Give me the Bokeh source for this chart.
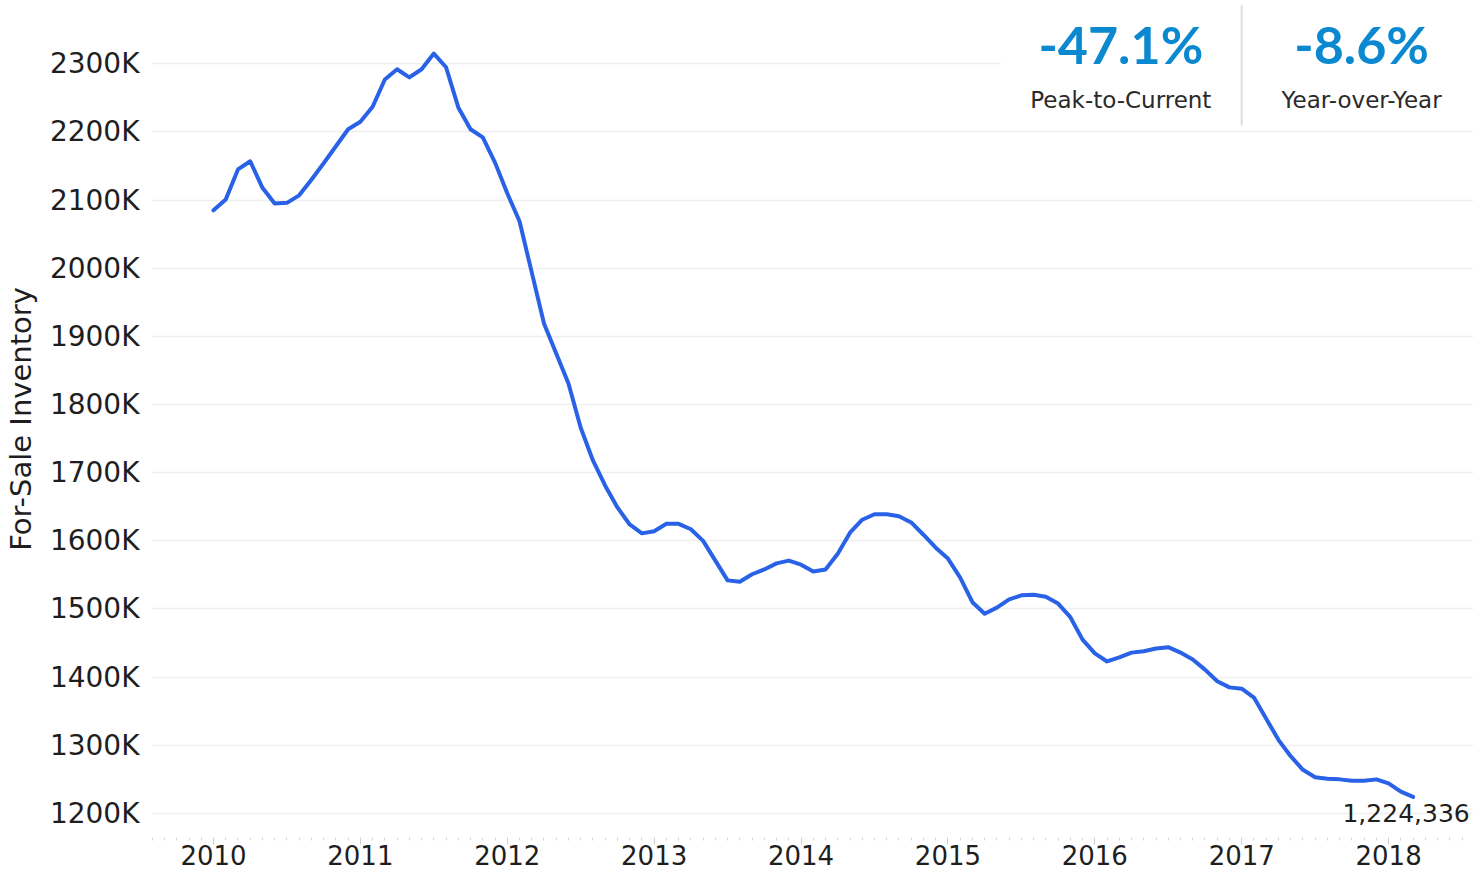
from bokeh.plotting import figure
from bokeh.models import Range1d, FixedTicker, SingleIntervalTicker, Label, BoxAnnotation
from bokeh.embed import file_html
from bokeh.resources import INLINE
import pandas as pd

# For-sale inventory, thousands of homes, monthly from Jan 2010
inventory_k = [
    2085, 2101, 2145, 2157, 2118, 2095, 2096, 2107, 2130, 2154, 2179, 2204,
    2215, 2237, 2277, 2292, 2280, 2292, 2315, 2295, 2236, 2204, 2192, 2155,
    2110, 2069, 1994, 1919, 1875, 1831, 1766, 1718, 1681, 1649, 1624, 1611,
    1614, 1625, 1625, 1617, 1600, 1571, 1542, 1540, 1551, 1558, 1567, 1571,
    1565, 1555, 1558, 1581, 1612, 1631, 1639, 1639, 1636, 1627, 1609, 1590,
    1574, 1546, 1510, 1493, 1502, 1514, 1520, 1521, 1518, 1508, 1488, 1455,
    1435, 1423, 1429, 1436, 1438, 1442, 1444, 1436, 1426, 1411, 1394, 1385,
    1383, 1370, 1339, 1308, 1284, 1264, 1253, 1251, 1250, 1248, 1248, 1250,
    1244, 1232, 1224.336,
]
months = pd.date_range("2010-01-01", periods=len(inventory_k), freq="MS")
x_years = [d.year + (d.month - 1) / 12 for d in months]

y_tick_values = list(range(1200, 2400, 100))
y_tick_labels = [f"{v}K" for v in y_tick_values]
x_tick_years = list(range(2010, 2019))
x_tick_labels = [str(y) for y in x_tick_years]

stat_values = ["-47.1%", "-8.6%"]
stat_names = ["Peak-to-Current", "Year-over-Year"]
last_label = "1,224,336"
y_title = "For-Sale Inventory"

FONT = "DejaVu Sans"
TXT = "#1e1e1e"

p = figure(width=1473, height=875, output_backend="svg", toolbar_location=None,
           x_range=Range1d(2009.578, 2018.578), y_range=Range1d(1164.7, 2392.9),
           min_border_left=150, min_border_right=0, min_border_top=0, min_border_bottom=38)
p.outline_line_color = None
p.background_fill_color = "white"
p.border_fill_color = "white"

p.line(x_years, inventory_k, line_color="#2962e6", line_width=4, line_join="round", line_cap="round")

# y axis
p.yaxis.ticker = FixedTicker(ticks=y_tick_values)
p.yaxis.major_label_overrides = {v: l for v, l in zip(y_tick_values, y_tick_labels)}
p.yaxis.axis_line_color = None
p.yaxis.major_tick_line_color = None
p.yaxis.major_tick_out = 0
p.yaxis.major_tick_in = 0
p.yaxis.minor_tick_line_color = None
p.yaxis.minor_tick_out = 0
p.yaxis.minor_tick_in = 0
p.yaxis.major_label_standoff = 12
p.yaxis.major_label_text_font = FONT
p.yaxis.major_label_text_font_size = "28px"
p.yaxis.major_label_text_color = TXT
p.yaxis.axis_label = y_title
p.yaxis.axis_label_text_font = FONT
p.yaxis.axis_label_text_font_size = "29px"
p.yaxis.axis_label_text_font_style = "normal"
p.yaxis.axis_label_text_color = TXT
p.yaxis.axis_label_standoff = 9

# x axis
p.xaxis.ticker = SingleIntervalTicker(interval=1, num_minor_ticks=12)
p.xaxis.major_label_overrides = {v: l for v, l in zip(x_tick_years, x_tick_labels)}
p.xaxis.axis_line_color = None
p.xaxis.major_tick_line_color = "#cfcfcf"
p.xaxis.major_tick_out = 7
p.xaxis.major_tick_in = 0
p.xaxis.minor_tick_line_color = "#d6d6d6"
p.xaxis.minor_tick_out = 3
p.xaxis.minor_tick_in = 0
p.xaxis.major_label_standoff = 0
p.xaxis.major_label_text_font = FONT
p.xaxis.major_label_text_font_size = "26px"
p.xaxis.major_label_text_color = TXT

p.xgrid.grid_line_color = None
p.ygrid.ticker = FixedTicker(ticks=y_tick_values)
p.ygrid.grid_line_color = "#efefef"
p.ygrid.grid_line_width = 1.5

# stats panel
p.add_layout(BoxAnnotation(left=2015.36, bottom=2250, fill_color="white", fill_alpha=1.0,
                           line_color=None))
p.add_layout(BoxAnnotation(left=2016.993, right=2017.007, bottom=2209.5, top=2385.5,
                           fill_color="#dedede", fill_alpha=1.0, line_color=None))
stat_x = [2016.177, 2017.816]
for sx, sv, sn in zip(stat_x, stat_values, stat_names):
    p.add_layout(Label(x=sx, y=2328.5, text=sv, text_align="center", text_baseline="middle",
                       text_font="Lato", text_font_style="bold", text_font_size="52px",
                       text_color="#0a88d0"))
    p.add_layout(Label(x=sx, y=2246.9, text=sn, text_align="center", text_baseline="middle",
                       text_font=FONT, text_font_size="23px", text_color="#2a2a2a"))

# last value label
p.add_layout(Label(x=x_years[-1], y=inventory_k[-1], text=last_label, x_offset=-7, y_offset=-7,
                   text_align="center", text_baseline="top", text_font=FONT,
                   text_font_size="25px", text_color=TXT))

open("out.html", "w").write(file_html(p, INLINE))
